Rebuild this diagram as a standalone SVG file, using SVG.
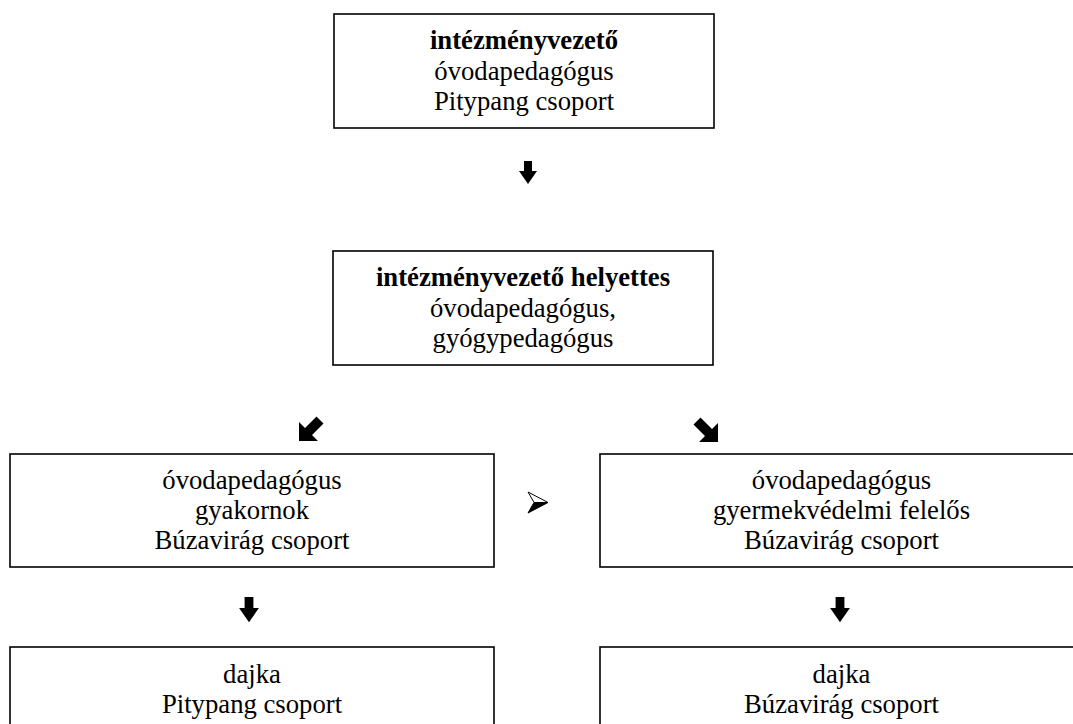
<svg xmlns="http://www.w3.org/2000/svg" width="1073" height="724" viewBox="0 0 1073 724">
<style>
.box{fill:#fff;stroke:#000;stroke-width:1.6}
text{font-family:"Liberation Serif","Times New Roman",serif;font-size:26.7px;fill:#000;text-anchor:middle}
.b{font-weight:bold}
.arr{fill:#000}
</style>
<defs>
<path id="down" d="M-4,0 H4 V10 H9 L0,23 L-9,10 H-4 Z"/>
<path id="dl" d="M0,24 L0,5 L6,11 L17.5,-0.5 L24.5,6.5 L13,18 L19,24 Z"/>
</defs>
<rect width="1073" height="724" fill="#fff"/>
<g id="n1">
<rect class="box" x="334" y="14" width="380" height="114"/>
<text x="524" y="49" class="b">intézményvezető</text>
<text x="524" y="79.5">óvodapedagógus</text>
<text x="524" y="110">Pitypang csoport</text>
</g>
<g id="n2">
<rect class="box" x="333" y="251" width="380" height="114"/>
<text x="523" y="286" class="b">intézményvezető helyettes</text>
<text x="523" y="317">óvodapedagógus,</text>
<text x="523" y="347">gyógypedagógus</text>
</g>
<g id="n3">
<rect class="box" x="10" y="454" width="484" height="113"/>
<text x="252" y="489">óvodapedagógus</text>
<text x="252" y="519">gyakornok</text>
<text x="252" y="549">Búzavirág csoport</text>
</g>
<g id="n4">
<rect class="box" x="600" y="454" width="484" height="113"/>
<text x="841.5" y="489">óvodapedagógus</text>
<text x="841.5" y="519">gyermekvédelmi felelős</text>
<text x="841.5" y="549">Búzavirág csoport</text>
</g>
<g id="n5">
<rect class="box" x="10" y="647" width="484" height="113"/>
<text x="252" y="683">dajka</text>
<text x="252" y="713">Pitypang csoport</text>
</g>
<g id="n6">
<rect class="box" x="600" y="647" width="484" height="113"/>
<text x="841.5" y="683">dajka</text>
<text x="841.5" y="713">Búzavirág csoport</text>
</g>
<g id="connectors">
<use href="#down" class="arr" transform="translate(528,161)"/>
<use href="#dl" class="arr" transform="translate(299,417)"/>
<use href="#dl" class="arr" transform="translate(718,418) scale(-1,1)"/>
<use href="#down" class="arr" transform="translate(249,597) scale(1.1,1.1)"/>
<use href="#down" class="arr" transform="translate(840,597) scale(1.1,1.1)"/>
<path d="M528,492 L548,502.5 L534,502.5 Z" fill="#fff" stroke="#000" stroke-width="1" stroke-linejoin="miter"/>
<path d="M534,502.5 L548,502.5 L528,513 Z" fill="#000" stroke="#000" stroke-width="1"/>
</g>
</svg>
